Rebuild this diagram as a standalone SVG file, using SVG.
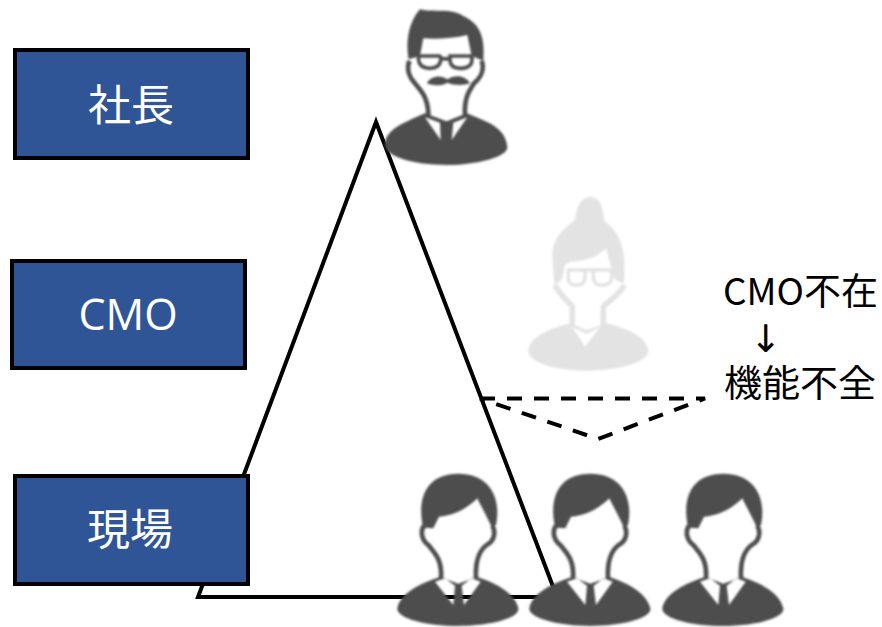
<svg xmlns="http://www.w3.org/2000/svg" width="882" height="627" viewBox="0 0 882 627">
<style>
.box{fill:#2f5597;stroke:#000;stroke-width:4}
.lbl{fill:#fff;font-family:"Noto Sans CJK JP","Noto Sans",sans-serif;font-size:43px;text-anchor:middle}
.cmo{fill:#fff;font-family:"Open Sans","Noto Sans",sans-serif;font-size:43px;text-anchor:middle}
.note{fill:#000;font-family:"Noto Sans CJK JP","Noto Sans",sans-serif;font-size:37px}
.arrow{fill:#000;font-family:"DejaVu Sans",sans-serif;font-size:38px}
.line{fill:none;stroke:#000;stroke-width:4}
.dash{fill:none;stroke:#000;stroke-width:4;stroke-dasharray:15 12}
</style>
<defs>
<filter id="soft" x="-5%" y="-5%" width="110%" height="110%"><feGaussianBlur stdDeviation="3.2"/></filter>
<g id="worker" filter="url(#soft)">
<path fill="#4d4d4d" d="M98 180C82 100 108 26 205 26C292 26 336 90 318 180L305 186C290 152 272 122 262 100C230 132 190 152 147 155L130 190L106 188Z"/>
<path fill="none" stroke="#4d4d4d" stroke-width="14" d="M102 182C90 200 95 225 115 240C135 265 157 285 153 340M307 182C320 205 310 230 290 240C270 255 255 280 258 340"/>
<path fill="#4d4d4d" fill-rule="evenodd" d="M22 430C30 385 90 355 150 336L205 356L262 336C320 355 375 385 385 430C390 460 300 483 205 483C110 483 20 460 22 430ZM135 350L165 340L195 362L190 420ZM272 350L245 340L215 362L222 420Z"/>
</g>
</defs>
<g id="connectors">
<path class="line" d="M376 122L198 597H557Z"/>
<path class="dash" d="M480 398.500H705L598 439L480 398.500"/>
</g>
<g id="node-president"><rect class="box" x="15" y="50" width="233" height="108"/><text class="lbl" x="131" y="121">社長</text></g>
<g id="node-cmo"><rect class="box" x="12" y="261" width="233" height="107"/><text class="cmo" x="128" y="330">CMO</text></g>
<g id="node-field"><rect class="box" x="15" y="476" width="233" height="108"/><text class="lbl" x="130" y="545">現場</text></g>
<g id="person-president" transform="translate(370,0) scale(.3333)" filter="url(#soft)">
<path fill="#4d4d4d" d="M116 178C103 100 130 50 150 28C190 38 240 23 280 48C322 68 347 100 340 182L305 168L292 105C250 115 200 118 160 115L150 168Z"/>
<g fill="none" stroke="#4d4d4d">
<path stroke-width="14" d="M118 182C108 210 120 235 135 250C150 270 175 290 175 345M335 182C345 210 330 235 312 250C300 270 282 290 285 345"/>
<path stroke-width="11" d="M145 168H208Q214 170 212 182Q208 205 180 205Q150 205 146 182ZM240 168H305Q308 182 303 192Q295 205 270 205Q242 205 240 182ZM208 180Q225 172 240 180"/>
</g>
<path fill="#4d4d4d" d="M170 250C185 225 215 225 232 238C250 225 285 222 300 250C275 258 250 255 232 248C215 258 190 258 170 250Z"/>
<path fill="#4d4d4d" fill-rule="evenodd" d="M45 430C50 385 110 365 165 340L230 364L290 340C350 365 405 380 412 440C416 470 320 495 230 495C130 495 40 470 45 430ZM165 352L210 368L212 420ZM292 352L250 368L245 420Z"/>
</g>
<g id="person-cmo" transform="translate(520,190) scale(.3333)" filter="url(#soft)">
<path fill="#e3e3e3" d="M210 20C175 25 170 60 165 90C125 120 95 150 97 205L103 285L125 270L135 225L150 215C190 215 235 200 258 175L272 225L285 270L312 280C315 220 320 140 255 95C245 60 250 25 210 20Z"/>
<g fill="none" stroke="#e3e3e3">
<path stroke-width="17" d="M105 285C115 310 150 340 157 350V405M312 285C300 315 255 340 250 350V405"/>
<path stroke-width="10" d="M140 240H275M145 240V270Q150 288 175 285Q195 285 195 262V240M220 240V262Q222 288 250 285Q275 285 275 262V240"/>
</g>
<path fill="#e3e3e3" fill-rule="evenodd" d="M25 480C30 440 90 415 150 400L200 420L260 400C320 415 380 440 385 480C388 515 300 542 200 542C100 542 22 515 25 480ZM158 412L195 470L240 412L200 432Z"/>
</g>
<g id="worker-1" transform="translate(390,465) scale(.3333)"><use href="#worker"/></g>
<g id="worker-2" transform="translate(522,465) scale(.3333)"><use href="#worker"/></g>
<g id="worker-3" transform="translate(655,465) scale(.3333)"><use href="#worker"/></g>
<g id="note">
<text class="note" x="723" y="305" textLength="155" lengthAdjust="spacingAndGlyphs">CMO不在</text>
<text class="arrow" x="750" y="352">↓</text>
<text class="note" x="724" y="397" textLength="152" lengthAdjust="spacingAndGlyphs">機能不全</text>
</g>
</svg>
